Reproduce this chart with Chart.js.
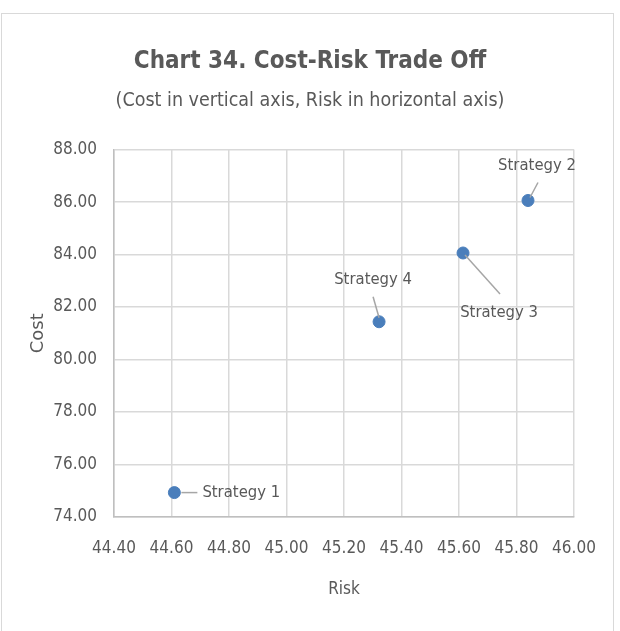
<!DOCTYPE html>
<html>
<head>
<meta charset="utf-8">
<script src="https://cdn.jsdelivr.net/npm/chart.js@4/dist/chart.umd.min.js"></script>
<style>
  html, body { margin: 0; padding: 0; background: #fff; }
  #wrap { position: relative; width: 620px; height: 631px; overflow: hidden; }
  #frame {
    position: absolute; left: 1px; top: 13px; width: 613px; height: 640px;
    border: 1px solid #d9d9d9; box-sizing: border-box;
  }
  canvas { position: absolute; left: 0; top: 0; }
</style>
</head>
<body>
<div id="wrap">
  <div id="frame"></div>
  <canvas id="myChart" width="620" height="631"></canvas>
</div>
<script>
const STRATEGIES = ["Strategy 1", "Strategy 2", "Strategy 3", "Strategy 4"]
const RISK = [44.61, 45.84, 45.614, 45.322]
const COST = [74.93, 86.06, 84.06, 81.44]
const X_TICKS = [44.4, 44.6, 44.8, 45.0, 45.2, 45.4, 45.6, 45.8, 46.0]
const Y_TICKS = [74, 76, 78, 80, 82, 84, 86, 88]

const NARROW = "'DejaVu Sans Condensed', 'Liberation Sans Narrow', sans-serif"
const GRAY = "#595959"
const GRID = "#d9d9d9"
const AXIS = "#bfbfbf"

// where each label sits relative to its point, and its leader line
const LABEL_STYLE = [
  { dx: 28, dy: 0, align: "left", line: [7, 0, 23, 0] },
  { dx: 9, dy: -35, align: "center", line: [2, -3, 10, -18] },
  { dx: 36, dy: 60, align: "center", line: [2, 2, 37, 41] },
  { dx: -6, dy: -42, align: "center", line: [-6, -25, 0, -4] },
]

const pointLabels = {
  id: "pointLabels",
  afterDatasetsDraw(chart) {
    const ctx = chart.ctx
    const meta = chart.getDatasetMeta(0)
    ctx.save()
    meta.data.forEach((pt, i) => {
      const s = LABEL_STYLE[i]
      ctx.strokeStyle = "#a6a6a6"
      ctx.lineWidth = 1.5
      ctx.beginPath()
      ctx.moveTo(pt.x + s.line[0], pt.y + s.line[1])
      ctx.lineTo(pt.x + s.line[2], pt.y + s.line[3])
      ctx.stroke()
      ctx.fillStyle = GRAY
      ctx.font = "16.5px " + NARROW
      ctx.textAlign = s.align
      ctx.textBaseline = "middle"
      ctx.fillText(STRATEGIES[i], pt.x + s.dx, pt.y + s.dy)
    })
    ctx.restore()
  },
}

const ctx = document.getElementById("myChart").getContext("2d")
new Chart(ctx, {
  type: "scatter",
  data: {
    datasets: [
      {
        label: "Strategies",
        data: RISK.map((x, i) => ({ x: x, y: COST[i] })),
        backgroundColor: "#4a7ebb",
        borderColor: "#4a7ebb",
        pointRadius: 6,
        pointHoverRadius: 6,
      },
    ],
  },
  options: {
    responsive: false,
    animation: false,
    layout: { padding: { left: 46, right: 46, top: 0, bottom: 31.2 } },
    plugins: {
      legend: { display: false },
      tooltip: { enabled: false },
      title: {
        display: true,
        text: "Chart 34. Cost-Risk Trade Off",
        color: GRAY,
        font: { family: NARROW, size: 24, weight: "bold" },
        padding: { top: 47.6, bottom: 12.4 },
      },
      subtitle: {
        display: true,
        text: "(Cost in vertical axis, Risk in horizontal axis)",
        color: GRAY,
        font: { family: NARROW, size: 19.5 },
        padding: { top: 0, bottom: 37.4 },
      },
    },
    scales: {
      x: {
        type: "linear",
        min: X_TICKS[0],
        max: X_TICKS[X_TICKS.length - 1],
        afterBuildTicks: (scale) => {
          scale.ticks = X_TICKS.map((v) => ({ value: v }))
        },
        afterFit: (scale) => {
          scale.height = 82.8
        },
        grid: { color: GRID, lineWidth: 1.5, drawTicks: false },
        border: { color: AXIS, width: 1.5 },
        ticks: {
          color: GRAY,
          padding: 21.5,
          font: { family: NARROW, size: 17 },
          callback: (v) => Number(v).toFixed(2),
        },
        title: {
          display: true,
          text: "Risk",
          color: GRAY,
          font: { family: NARROW, size: 17 },
          padding: { top: 4, bottom: 0 },
        },
      },
      y: {
        type: "linear",
        min: Y_TICKS[0],
        max: Y_TICKS[Y_TICKS.length - 1],
        afterBuildTicks: (scale) => {
          scale.ticks = Y_TICKS.map((v) => ({ value: v }))
        },
        afterFit: (scale) => {
          scale.width = 68
        },
        grid: { color: GRID, lineWidth: 1.5, drawTicks: false },
        border: { color: AXIS, width: 1.5 },
        ticks: {
          color: GRAY,
          padding: 17,
          font: { family: NARROW, size: 17 },
          callback: (v) => Number(v).toFixed(2),
        },
        title: {
          display: true,
          text: "Cost",
          color: GRAY,
          font: { family: "'DejaVu Sans', sans-serif", size: 18 },
          padding: { top: -18.8, bottom: 0 },
        },
      },
    },
  },
  plugins: [pointLabels],
})
</script>
</body>
</html>
